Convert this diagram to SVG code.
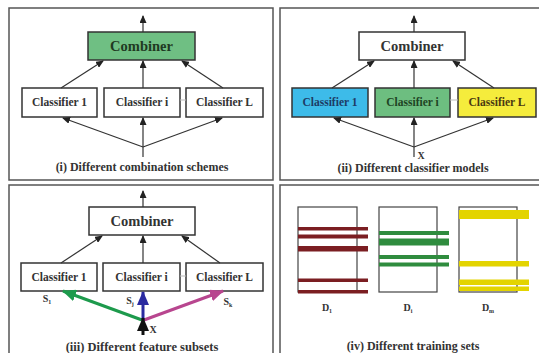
<svg xmlns="http://www.w3.org/2000/svg" width="539" height="353" viewBox="0 0 539 353" font-family="'Liberation Serif', 'Times New Roman', serif">
<style>
text{font-family:'Liberation Serif','Times New Roman',serif;font-weight:bold;text-anchor:middle}
.panel{fill:#fff;stroke:#555;stroke-width:1.5}
.box{stroke:#333;stroke-width:1.5}
.comb{font-size:14.5px;fill:#333}
.cls{font-size:11.5px;fill:#333}
.cap{font-size:12px;fill:#333}
.con{stroke:#333;stroke-width:1.2;fill:none}
.faint{stroke:#bbb;stroke-width:1}
.sub{font-size:10px;fill:#333}
</style>
<defs>
<marker id="ah" markerUnits="userSpaceOnUse" markerWidth="8" markerHeight="7" refX="7" refY="3.5" orient="auto"><path d="M0,0 L8,3.5 L0,7 Z" fill="#222"/></marker>
<marker id="agreen" markerUnits="userSpaceOnUse" markerWidth="14" markerHeight="12" refX="13" refY="6" orient="auto"><path d="M0,0 L14,6 L0,12 Z" fill="#1d9a4c"/></marker>
<marker id="ablue" markerUnits="userSpaceOnUse" markerWidth="14" markerHeight="12" refX="13" refY="6" orient="auto"><path d="M0,0 L14,6 L0,12 Z" fill="#2a2aa0"/></marker>
<marker id="amag" markerUnits="userSpaceOnUse" markerWidth="14" markerHeight="12" refX="13" refY="6" orient="auto"><path d="M0,0 L14,6 L0,12 Z" fill="#b8468f"/></marker>
<marker id="ablack" markerUnits="userSpaceOnUse" markerWidth="14" markerHeight="12" refX="13" refY="6" orient="auto"><path d="M0,0 L14,6 L0,12 Z" fill="#111"/></marker>
</defs>
<rect width="539" height="353" fill="#fff"/>

<!-- Panel i -->
<g id="panel1">
<rect class="panel" x="9" y="8" width="264" height="172"/>
<g id="p1-combiner"><rect class="box" x="88" y="32" width="107" height="28" fill="#6fbf83"/><text class="comb" x="141.5" y="51" style="fill:#1f3a22">Combiner</text></g>
<g id="p1-c1"><rect class="box" x="22" y="88" width="75" height="29" fill="#fff"/><text class="cls" x="59.5" y="106">Classifier 1</text></g>
<g id="p1-ci"><rect class="box" x="104" y="88" width="76" height="29" fill="#fff"/><text class="cls" x="142" y="106">Classifier i</text></g>
<g id="p1-cL"><rect class="box" x="186" y="88" width="77" height="29" fill="#fff"/><text class="cls" x="224.5" y="106">Classifier L</text></g>
<text class="cap" x="142" y="171">(i) Different combination schemes</text>
</g>

<!-- Panel ii -->
<g id="panel2">
<rect class="panel" x="280" y="8" width="270" height="172"/>
<g id="p2-combiner"><rect class="box" x="359" y="32" width="106" height="28" fill="#fff"/><text class="comb" x="412" y="51">Combiner</text></g>
<g id="p2-c1"><rect class="box" x="292" y="88" width="76" height="29" fill="#3dbbe9"/><text class="cls" x="330" y="106" style="fill:#1d3b66">Classifier 1</text></g>
<g id="p2-ci"><rect class="box" x="375" y="88" width="75" height="29" fill="#6dbe80"/><text class="cls" x="412.5" y="106" style="fill:#1f4424">Classifier i</text></g>
<g id="p2-cL"><rect class="box" x="458" y="88" width="78" height="29" fill="#f5ec3c"/><text class="cls" x="497" y="106" style="fill:#4a3a12">Classifier L</text></g>
<text class="sub" x="421" y="159">X</text>
<text class="cap" x="413" y="172">(ii) Different classifier models</text>
</g>

<!-- Panel iii -->
<g id="panel3">
<rect class="panel" x="9" y="185" width="264" height="175"/>
<g id="p3-combiner"><rect class="box" x="89" y="207" width="106" height="28" fill="#fff"/><text class="comb" x="142" y="226">Combiner</text></g>
<g id="p3-c1"><rect class="box" x="21" y="263" width="76" height="28" fill="#fff"/><text class="cls" x="59" y="281">Classifier 1</text></g>
<g id="p3-ci"><rect class="box" x="103" y="263" width="77" height="28" fill="#fff"/><text class="cls" x="141.5" y="281">Classifier i</text></g>
<g id="p3-cL"><rect class="box" x="186" y="263" width="77" height="28" fill="#fff"/><text class="cls" x="224.5" y="281">Classifier L</text></g>
<text class="sub" x="47" y="302">S<tspan font-size="6" dy="2">1</tspan></text>
<text class="sub" x="130" y="304">S<tspan font-size="6" dy="2">j</tspan></text>
<text class="sub" x="228" y="305">S<tspan font-size="6" dy="2">k</tspan></text>
<text class="sub" x="153" y="333">X</text>
<text class="cap" x="142" y="351" style="font-size:12.5px">(iii) Different feature subsets</text>
</g>

<!-- Panel iv -->
<g id="panel4">
<rect class="panel" x="280" y="185" width="270" height="175"/>
<g id="D1">
<rect x="298" y="207" width="59" height="85" fill="none" stroke="#444" stroke-width="1.2"/>
<g fill="#7b1e22">
<rect x="298" y="227" width="70" height="3.5"/>
<rect x="298" y="234.5" width="70" height="4"/>
<rect x="298" y="246" width="70" height="5.5"/>
<rect x="298" y="278.5" width="70" height="3.5"/>
<rect x="298" y="290" width="70" height="3.5"/>
</g>
<text class="sub" x="327" y="311">D<tspan font-size="6" dy="2">1</tspan></text>
</g>
<g id="Di">
<rect x="379" y="207" width="58" height="85" fill="none" stroke="#444" stroke-width="1.2"/>
<g fill="#2f8c3e">
<rect x="379" y="231" width="70" height="4"/>
<rect x="379" y="238.5" width="70" height="7"/>
<rect x="379" y="255" width="70" height="4"/>
<rect x="379" y="262.5" width="70" height="4"/>
</g>
<text class="sub" x="408" y="311">D<tspan font-size="6" dy="2">i</tspan></text>
</g>
<g id="Dm">
<rect x="459" y="207" width="58" height="85" fill="none" stroke="#444" stroke-width="1.2"/>
<g fill="#e3d400">
<rect x="459" y="210" width="70" height="9"/>
<rect x="459" y="261" width="70" height="5.5"/>
<rect x="459" y="279.5" width="70" height="5.5"/>
<rect x="459" y="286.5" width="70" height="4.5"/>
</g>
<text class="sub" x="488" y="311">D<tspan font-size="6" dy="2">m</tspan></text>
</g>
<text class="cap" x="413" y="350">(iv) Different training sets</text>
</g>

<!-- Connectors -->
<g id="connectors">
<line class="con" x1="143" y1="32" x2="143" y2="16" marker-end="url(#ah)"/>
<line class="con" x1="61" y1="88" x2="103" y2="61" marker-end="url(#ah)"/>
<line class="con" x1="143" y1="88" x2="143" y2="61" marker-end="url(#ah)"/>
<line class="con" x1="223" y1="88" x2="182" y2="61" marker-end="url(#ah)"/>
<line class="con" x1="143" y1="147" x2="63" y2="118" marker-end="url(#ah)"/>
<line class="con" x1="143" y1="147" x2="143" y2="118" marker-end="url(#ah)"/>
<line class="con" x1="143" y1="147" x2="222" y2="118" marker-end="url(#ah)"/>
<line class="con" x1="143" y1="147" x2="143" y2="157"/>
<line class="faint" x1="180" y1="100" x2="186" y2="100"/>
<line class="con" x1="414" y1="32" x2="414" y2="16" marker-end="url(#ah)"/>
<line class="con" x1="332" y1="88" x2="374" y2="61" marker-end="url(#ah)"/>
<line class="con" x1="414" y1="88" x2="414" y2="61" marker-end="url(#ah)"/>
<line class="con" x1="494" y1="88" x2="453" y2="61" marker-end="url(#ah)"/>
<line class="con" x1="414" y1="147" x2="334" y2="118" marker-end="url(#ah)"/>
<line class="con" x1="414" y1="147" x2="414" y2="118" marker-end="url(#ah)"/>
<line class="con" x1="414" y1="147" x2="493" y2="118" marker-end="url(#ah)"/>
<line class="con" x1="414" y1="147" x2="414" y2="157"/>
<line class="faint" x1="450" y1="100" x2="458" y2="100"/>
<line class="con" x1="143" y1="207" x2="143" y2="191" marker-end="url(#ah)"/>
<line class="con" x1="61" y1="263" x2="102" y2="236" marker-end="url(#ah)"/>
<line class="con" x1="143" y1="263" x2="143" y2="236" marker-end="url(#ah)"/>
<line class="con" x1="220" y1="263" x2="182" y2="236" marker-end="url(#ah)"/>
<line class="faint" x1="180" y1="276" x2="186" y2="276"/>
<line x1="142" y1="320" x2="63" y2="291" stroke="#1d9a4c" stroke-width="3" marker-end="url(#agreen)"/>
<line x1="144" y1="320" x2="223" y2="291" stroke="#b8468f" stroke-width="3" marker-end="url(#amag)"/>
<line x1="143" y1="320" x2="143" y2="292" stroke="#2a2aa0" stroke-width="3" marker-end="url(#ablue)"/>
<line x1="143" y1="335" x2="143" y2="318" stroke="#111" stroke-width="3" marker-end="url(#ablack)"/>
</g>
</svg>
